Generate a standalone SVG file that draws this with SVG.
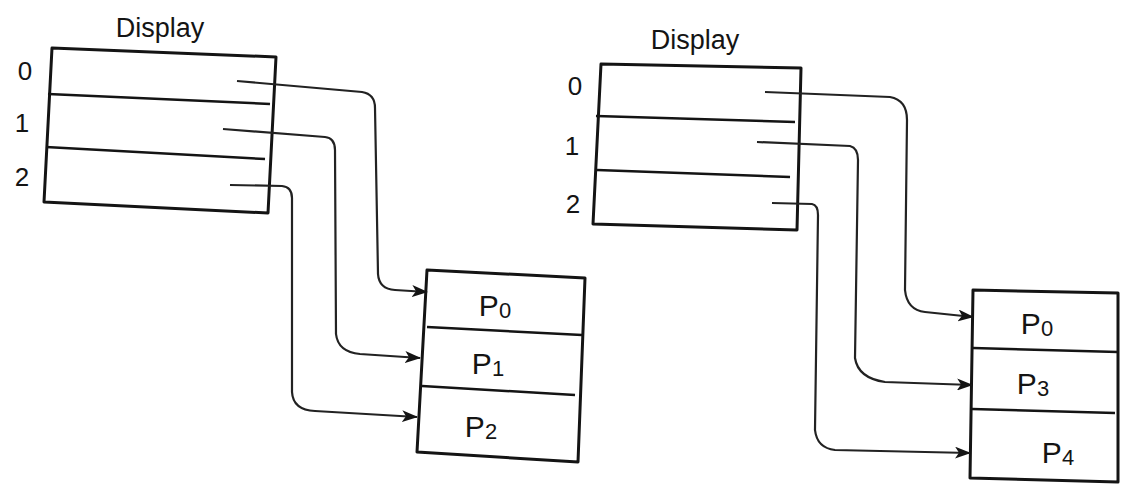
<svg xmlns="http://www.w3.org/2000/svg" width="1129" height="488" viewBox="0 0 1129 488">
<style>
.box{fill:none;stroke:#141414;stroke-width:3;stroke-linejoin:round}
.div{fill:none;stroke:#141414;stroke-width:2.5}
.con{fill:none;stroke:#222;stroke-width:2.2}
.t{font-family:"Liberation Sans",Arial,sans-serif;fill:#141414}
.lbl{font-size:26px}
.dl{font-size:27px}
.pl{font-size:30px}
.sub{font-size:22px}
</style>
<defs>
<marker id="ah" viewBox="0 0 16 12" refX="15" refY="6" markerWidth="16" markerHeight="12" markerUnits="userSpaceOnUse" orient="auto">
<path d="M0,0 L16,6 L0,12 L4,6 z" fill="#141414"/>
</marker>
</defs>
<rect width="1129" height="488" fill="#fff"/>

<g id="display-left">
<text class="t dl" x="160" y="37" text-anchor="middle">Display</text>
<polygon class="box" points="52,48 276,57 268,213 44,202"/>
<line class="div" x1="48" y1="94" x2="270" y2="104"/>
<line class="div" x1="46" y1="147" x2="265" y2="159"/>
<text class="t lbl" x="25" y="80" text-anchor="middle">0</text>
<text class="t lbl" x="22" y="132" text-anchor="middle">1</text>
<text class="t lbl" x="22" y="186" text-anchor="middle">2</text>
</g>

<g id="p-left">
<polygon class="box" points="427,270 585,278 578,462 417,452"/>
<line class="div" x1="427" y1="327" x2="582" y2="335"/>
<line class="div" x1="422" y1="386" x2="575" y2="395"/>
<text class="t pl" x="495" y="316" text-anchor="middle">P<tspan class="sub" dy="2">0</tspan></text>
<text class="t pl" x="488" y="374" text-anchor="middle">P<tspan class="sub" dy="2">1</tspan></text>
<text class="t pl" x="481" y="437" text-anchor="middle">P<tspan class="sub" dy="2">2</tspan></text>
</g>

<g id="display-right">
<text class="t dl" x="695" y="49" text-anchor="middle">Display</text>
<polygon class="box" points="601,64 801,68 797,230 593,224"/>
<line class="div" x1="596" y1="116" x2="795" y2="122"/>
<line class="div" x1="597" y1="170" x2="790" y2="177"/>
<text class="t lbl" x="575" y="95" text-anchor="middle">0</text>
<text class="t lbl" x="572" y="155" text-anchor="middle">1</text>
<text class="t lbl" x="573" y="213" text-anchor="middle">2</text>
</g>

<g id="p-right">
<polygon class="box" points="973,290 1118,293 1118,482 970,478"/>
<line class="div" x1="973" y1="348" x2="1118" y2="352"/>
<line class="div" x1="972" y1="409" x2="1115" y2="413"/>
<text class="t pl" x="1037" y="334" text-anchor="middle">P<tspan class="sub" dy="2">0</tspan></text>
<text class="t pl" x="1033" y="394" text-anchor="middle">P<tspan class="sub" dy="2">3</tspan></text>
<text class="t pl" x="1058" y="463" text-anchor="middle">P<tspan class="sub" dy="2">4</tspan></text>
</g>

<g id="connectors">
<path class="con" marker-end="url(#ah)" d="M237,81 L362,92 Q375,94 375,108 L378,274 Q379,289 395,290 L427,292"/>
<path class="con" marker-end="url(#ah)" d="M223,129 L325,137 Q335,138 335,150 L336,334 Q338,352 360,354 L420,358"/>
<path class="con" marker-end="url(#ah)" d="M230,185 L282,186 Q292,187 292,198 L292,392 Q293,410 315,411 L417,417"/>
<path class="con" marker-end="url(#ah)" d="M765,92 L890,97 Q907,100 907,120 L905,290 Q907,310 925,312 L973,317"/>
<path class="con" marker-end="url(#ah)" d="M757,142 L850,146 Q858,148 858,160 L855,358 Q858,378 885,382 L972,385"/>
<path class="con" marker-end="url(#ah)" d="M772,203 L812,204 Q818,205 818,215 L815,430 Q817,448 835,450 L970,453"/>
</g>
</svg>
